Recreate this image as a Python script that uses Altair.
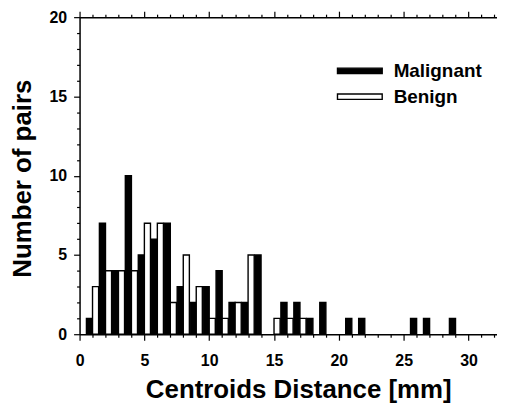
import altair as alt
import pandas as pd

distance = list(range(1, 30))
malignant = [1, 7, 4, 10, 5, 6, 7, 3, 2, 3, 4, 2, 2, 5, 0, 2, 2, 1, 2, 0, 1, 1, 0, 0, 0, 1, 1, 0, 1]
benign = [3, 4, 4, 4, 7, 7, 2, 5, 3, 1, 1, 2, 5, 0, 1, 1, 1, 0, 0, 0, 0, 0, 0, 0, 0, 0, 0, 0, 0]
types = ["Malignant", "Benign"]
x_ticks = list(range(0, 33))
y_ticks = list(range(0, 21))

rows = []
for d, m, b in zip(distance, malignant, benign):
    rows.append({"d": d, "type": types[0], "n": m})
    rows.append({"d": d, "type": types[1], "n": b})
df = pd.DataFrame(rows)

FONT = "Liberation Sans"
xscale = alt.Scale(domain=[0, 32.2], nice=False, zero=False)
yscale = alt.Scale(domain=[0, 20], nice=False)

major = {"condition": {"test": "datum.value % 5 === 0", "value": 6}, "value": 3}

bars = alt.Chart(df).transform_filter("datum.n > 0").transform_calculate(
    x0="datum.type === 'Malignant' ? datum.d - 0.47 : datum.d",
    x1="datum.type === 'Malignant' ? datum.d : datum.d + 0.47",
).mark_rect(stroke="black", strokeWidth=1.4).encode(
    x=alt.X("x0:Q", scale=xscale, axis=alt.Axis(
        values=x_ticks, labelExpr="datum.value % 5 === 0 ? datum.label : ''",
        labelOverlap=False, labelFlush=False, tickSize=major, labelPadding=12,
        title="Centroids Distance [mm]", titleFontSize=26, titleX=220, titleY=64,
        titleBaseline="alphabetic", titleAlign="center")),
    x2="x1:Q",
    y=alt.Y("n:Q", scale=yscale, axis=alt.Axis(
        values=y_ticks, labelExpr="datum.value % 5 === 0 ? datum.label : ''",
        labelOverlap=False, labelFlush=False, tickSize=major, labelPadding=7,
        title="Number of pairs", titleFontSize=26, titleX=-49, titleY=162,
        titleBaseline="alphabetic", titleAlign="center")),
    y2=alt.datum(0),
    fill=alt.Fill("type:N", sort=types,
                  scale=alt.Scale(domain=types, range=["black", "white"]),
                  legend=alt.Legend(title=None, orient="none", legendX=270, legendY=42,
                                    symbolType="M-2,-0.24H2V0.24H-2Z", symbolSize=506,
                                    symbolStrokeColor="black", symbolStrokeWidth=1.4,
                                    labelFont=FONT, labelFontSize=19, labelFontWeight="bold",
                                    labelColor="black", labelOffset=22, rowPadding=4,
                                    padding=0)),
)

top = alt.Chart(df).mark_point(opacity=0).encode(
    x=alt.X("d:Q", scale=xscale, axis=alt.Axis(
        orient="top", values=x_ticks, labels=False, title=None, tickSize=major)),
)

chart = alt.layer(bars, top).resolve_axis(x="independent").properties(
    width=420, height=319,
    autosize=alt.AutoSizeParams(type="none"),
    padding={"left": 72, "top": 8, "right": 0, "bottom": 70},
    background="white",
).configure_view(stroke=None).configure_axis(
    domainColor="black", domainWidth=1.5, tickColor="black", tickWidth=1.2,
    labelFont=FONT, labelFontSize=16, labelFontWeight="bold", labelColor="black",
    titleFont=FONT, titleFontWeight="bold", titleColor="black", grid=False,
)

chart.save("out.html", embed_options={"renderer": "svg", "actions": False})
